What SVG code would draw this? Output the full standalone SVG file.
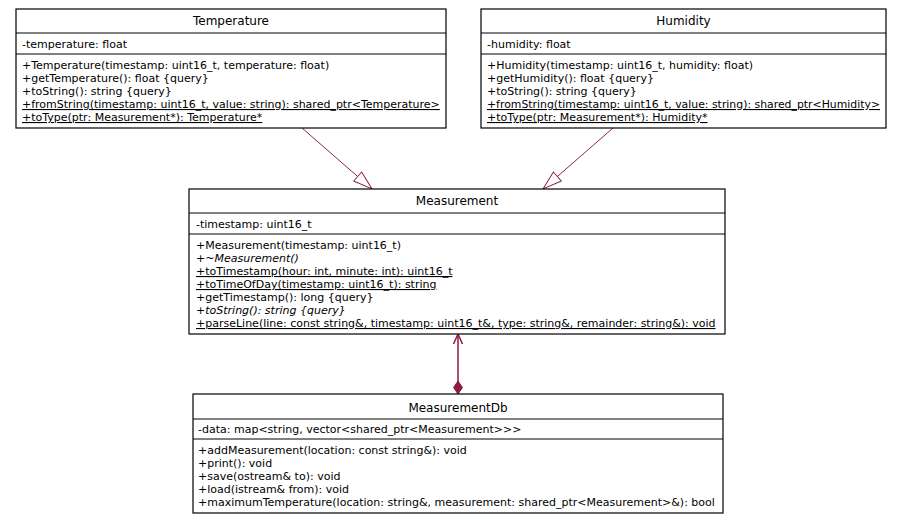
<svg xmlns="http://www.w3.org/2000/svg" width="910" height="527" viewBox="0 0 910 527">
<style>
.box{fill:#fff;stroke:#000;stroke-width:1.2}
.sep{stroke:#000;stroke-width:1}
text{font-family:"DejaVu Sans","Liberation Sans",sans-serif;fill:#000}
.t{font-size:12px;text-anchor:middle}
.m{font-size:11px}
.u{text-decoration:underline}
.i{font-style:italic}
.gen{stroke:#8a2a3e;stroke-width:1;fill:none}
.comp{stroke:#8c1a42;stroke-width:1.5;fill:none}
</style>
<defs>
<marker id="tri" markerWidth="22" markerHeight="16" refX="20" refY="7" orient="auto" markerUnits="userSpaceOnUse">
<path d="M1,1 L20,7 L1,13 Z" fill="#fff" stroke="#8a2a3e" stroke-width="1"/>
</marker>
<marker id="open" markerWidth="14" markerHeight="12" refX="11" refY="6" orient="auto" markerUnits="userSpaceOnUse">
<path d="M1,1.5 L11,6 L1,10.5" fill="none" stroke="#8c1a42" stroke-width="1.5"/>
</marker>
<marker id="dia" markerWidth="16" markerHeight="12" refX="1" refY="6" orient="auto" markerUnits="userSpaceOnUse">
<path d="M1,6 L7.5,1.5 L14,6 L7.5,10.5 Z" fill="#8c1a42" stroke="#8c1a42" stroke-width="1"/>
</marker>
</defs>

<g id="connectors">
<line class="gen" x1="302" y1="128" x2="372" y2="189" marker-end="url(#tri)"/>
<line class="gen" x1="613" y1="128" x2="543" y2="189" marker-end="url(#tri)"/>
<line class="comp" x1="458" y1="394" x2="458" y2="334" marker-start="url(#dia)" marker-end="url(#open)"/>
</g>

<g id="Temperature">
<rect class="box" x="16" y="9" width="430" height="119"/>
<line class="sep" x1="16" y1="33" x2="446" y2="33"/>
<line class="sep" x1="16" y1="54" x2="446" y2="54"/>
<text class="t" x="231" y="25">Temperature</text>
<text class="m" x="22" y="48">-temperature: float</text>
<text class="m" x="22" y="69">+Temperature(timestamp: uint16_t, temperature: float)</text>
<text class="m" x="22" y="82">+getTemperature(): float {query}</text>
<text class="m" x="22" y="95">+toString(): string {query}</text>
<text class="m u" x="22" y="108">+fromString(timestamp: uint16_t, value: string): shared_ptr&lt;Temperature&gt;</text>
<text class="m u" x="22" y="121">+toType(ptr: Measurement*): Temperature*</text>
</g>

<g id="Humidity">
<rect class="box" x="481" y="9" width="405" height="119"/>
<line class="sep" x1="481" y1="33" x2="886" y2="33"/>
<line class="sep" x1="481" y1="54" x2="886" y2="54"/>
<text class="t" x="683.5" y="25">Humidity</text>
<text class="m" x="487" y="48">-humidity: float</text>
<text class="m" x="487" y="69">+Humidity(timestamp: uint16_t, humidity: float)</text>
<text class="m" x="487" y="82">+getHumidity(): float {query}</text>
<text class="m" x="487" y="95">+toString(): string {query}</text>
<text class="m u" x="487" y="108" textLength="393" lengthAdjust="spacingAndGlyphs">+fromString(timestamp: uint16_t, value: string): shared_ptr&lt;Humidity&gt;</text>
<text class="m u" x="487" y="121">+toType(ptr: Measurement*): Humidity*</text>
</g>

<g id="Measurement">
<rect class="box" x="189" y="189" width="536" height="145"/>
<line class="sep" x1="189" y1="213" x2="725" y2="213"/>
<line class="sep" x1="189" y1="234" x2="725" y2="234"/>
<text class="t" x="457" y="205">Measurement</text>
<text class="m" x="196" y="228">-timestamp: uint16_t</text>
<text class="m" x="196" y="249">+Measurement(timestamp: uint16_t)</text>
<text class="m i" x="196" y="262">+~Measurement()</text>
<text class="m u" x="196" y="275">+toTimestamp(hour: int, minute: int): uint16_t</text>
<text class="m u" x="196" y="288">+toTimeOfDay(timestamp: uint16_t): string</text>
<text class="m" x="196" y="301">+getTimestamp(): long {query}</text>
<text class="m i" x="196" y="314">+toString(): string {query}</text>
<text class="m u" x="196" y="327">+parseLine(line: const string&amp;, timestamp: uint16_t&amp;, type: string&amp;, remainder: string&amp;): void</text>
</g>

<g id="MeasurementDb">
<rect class="box" x="193" y="394" width="530" height="119"/>
<line class="sep" x1="193" y1="419" x2="723" y2="419"/>
<line class="sep" x1="193" y1="439" x2="723" y2="439"/>
<text class="t" x="458" y="412">MeasurementDb</text>
<text class="m" x="198" y="433">-data: map&lt;string, vector&lt;shared_ptr&lt;Measurement&gt;&gt;&gt;</text>
<text class="m" x="198" y="454">+addMeasurement(location: const string&amp;): void</text>
<text class="m" x="198" y="467">+print(): void</text>
<text class="m" x="198" y="480">+save(ostream&amp; to): void</text>
<text class="m" x="198" y="493">+load(istream&amp; from): void</text>
<text class="m" x="198" y="506">+maximumTemperature(location: string&amp;, measurement: shared_ptr&lt;Measurement&gt;&amp;): bool</text>
</g>
</svg>
